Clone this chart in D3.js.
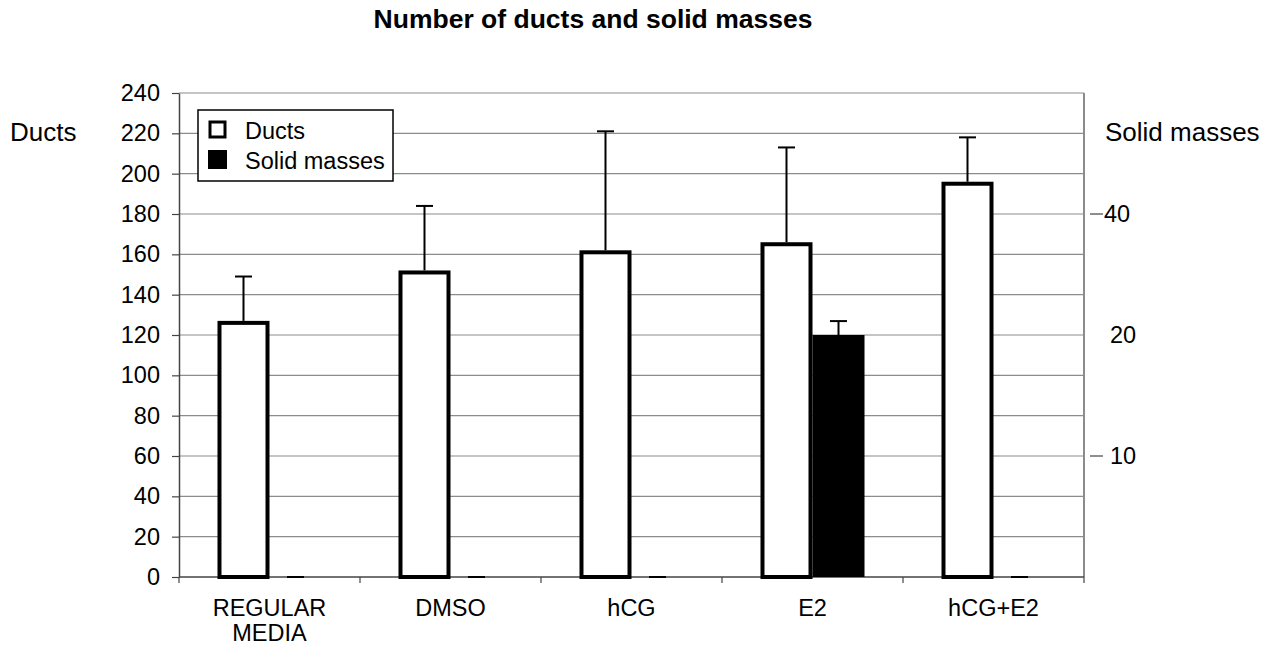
<!DOCTYPE html>
<html><head><meta charset="utf-8">
<script src="https://cdn.jsdelivr.net/npm/d3@7"></script>
<style>body{margin:0;background:#fff;} text{font-family:Arial,"Liberation Sans",sans-serif;fill:#000;}</style>
</head><body><svg id="c" width="1282" height="648"></svg>
<script>
const categories = ["REGULAR MEDIA", "DMSO", "hCG", "E2", "hCG+E2"];
const ducts = [127, 152, 162, 166, 196];
const ductsErr = [22, 32, 59, 47, 22];
const solidMasses = [0, 0, 0, 20, 0];
const solidErr = [0, 0, 0, 2.3, 0];
const leftTicks = [0,20,40,60,80,100,120,140,160,180,200,220,240];
const rightTicks = [10, 20, 40];
const rightTickMarked = [true, false, true];

const svg = d3.select("#c");
const m = {l:179, r:1084, t:93, b:577};
const x = d3.scaleBand().domain(categories).range([m.l, m.r]).paddingInner(0).paddingOuter(0);
const inner = d3.scaleBand().domain(["d","s"]).range([0, x.bandwidth()]).paddingInner(0).paddingOuter(0.74);
const y = d3.scaleLinear().domain([0,240]).range([m.b, m.t]);
// secondary axis as drawn in the original (non-uniform spacing)
const y2 = d3.scaleLinear().domain([0,10,20,40]).range([y(0), y(60), y(120), y(180)]);
const FS = "23.5px";

// grid
svg.append("g").selectAll("line").data(leftTicks.filter(d=>d>0)).join("line")
  .attr("x1", m.l).attr("x2", m.r).attr("y1", d=>y(d)).attr("y2", d=>y(d))
  .attr("stroke", "#8c8c8c").attr("stroke-width", 1.2);
svg.append("line").attr("x1", m.r).attr("x2", m.r).attr("y1", m.t).attr("y2", m.b)
  .attr("stroke", "#8c8c8c").attr("stroke-width", 2);

// left axis
const la = svg.append("g").attr("transform", `translate(${m.l},0)`)
  .call(d3.axisLeft(y).tickValues(leftTicks).tickSize(7).tickPadding(12).tickSizeOuter(0));
la.select(".domain").attr("stroke", "#444").attr("stroke-width", 1.5);
la.selectAll(".tick line").attr("stroke", "#444").attr("stroke-width", 1.2);
la.selectAll(".tick text").style("font-size", FS).attr("fill", "#000").attr("font-family","Arial,'Liberation Sans',sans-serif");

// bottom axis
const ba = svg.append("g").attr("transform", `translate(0,${m.b})`);
ba.append("line").attr("x1", m.l).attr("x2", m.r).attr("y1", 0).attr("y2", 0).attr("stroke", "#444").attr("stroke-width", 1.5);
const bounds = categories.map(c=>x(c)).concat([m.r]);
ba.selectAll("line.t").data(bounds).join("line").attr("class","t")
  .attr("x1", d=>d).attr("x2", d=>d).attr("y1", 0).attr("y2", 6).attr("stroke", "#444").attr("stroke-width", 1.2);
ba.selectAll("text.cat").data(categories).join("text").attr("class","cat")
  .attr("text-anchor","middle").style("font-size",FS)
  .attr("x", d=>x(d)+x.bandwidth()/2).attr("y", 39)
  .each(function(d){
    const parts = d === "REGULAR MEDIA" ? ["REGULAR","MEDIA"] : [d];
    d3.select(this).selectAll("tspan").data(parts).join("tspan")
      .attr("x", x(d)+x.bandwidth()/2).attr("dy", (p,i)=> i===0 ? 0 : 25).text(p=>p);
  });

// right axis
const ra = svg.append("g");
ra.selectAll("line").data(rightTicks.filter((d,i)=>rightTickMarked[i])).join("line")
  .attr("x1", m.r+6).attr("x2", m.r+19).attr("y1", d=>y2(d)).attr("y2", d=>y2(d))
  .attr("stroke", "#444").attr("stroke-width", 1.2);
ra.selectAll("text").data(rightTicks).join("text")
  .attr("x", (d,i)=> d===40 ? m.r+20 : m.r+26).attr("y", d=>y2(d)).attr("dy","0.35em")
  .style("font-size",FS).text(d=>d);

// error bars
const eb = svg.append("g");
function errBar(vals, errs, key, scale){
  vals.forEach((v,i)=>{
    const cx = x(categories[i]) + inner(key) + inner.bandwidth()/2;
    const y0 = scale(v), y1 = scale(v+errs[i]);
    if (errs[i] > 0) eb.append("line").attr("x1",cx).attr("x2",cx).attr("y1",y0).attr("y2",y1).attr("stroke","#000").attr("stroke-width",2);
    eb.append("line").attr("x1",cx-8.5).attr("x2",cx+8.5).attr("y1",y1).attr("y2",y1).attr("stroke","#000").attr("stroke-width",2);
  });
}
errBar(ducts, ductsErr, "d", y);
errBar(solidMasses, solidErr, "s", y2);

// bars
const ductData = ducts.map((v,i)=>({c:categories[i], v}));
const solidData = solidMasses.map((v,i)=>({c:categories[i], v})).filter(d=>d.v>0);
svg.append("g").selectAll("rect").data(ductData).join("rect")
  .attr("x", d=>x(d.c)+inner("d")+2).attr("width", inner.bandwidth()-4)
  .attr("y", d=>y(d.v)+2).attr("height", d=>y(0)-y(d.v)-2)
  .attr("fill","#fff").attr("stroke","#000").attr("stroke-width",4);
svg.append("g").selectAll("rect").data(solidData).join("rect")
  .attr("x", d=>x(d.c)+inner("s")).attr("width", inner.bandwidth())
  .attr("y", d=>y2(d.v)).attr("height", d=>y2(0)-y2(d.v))
  .attr("fill","#000");

// legend
const lg = svg.append("g").attr("transform","translate(198,110)");
lg.append("rect").attr("width",195).attr("height",71).attr("fill","#fff").attr("stroke","#000").attr("stroke-width",1.5);
lg.append("rect").attr("x",12).attr("y",12).attr("width",15).attr("height",15).attr("fill","#fff").attr("stroke","#000").attr("stroke-width",3);
lg.append("rect").attr("x",10).attr("y",40).attr("width",19).attr("height",19).attr("fill","#000");
lg.append("text").attr("x",47).attr("y",21).attr("dy","0.35em").style("font-size",FS).text("Ducts");
lg.append("text").attr("x",47).attr("y",51).attr("dy","0.35em").style("font-size",FS).text("Solid masses");

// titles
svg.append("text").attr("x",593).attr("y",28).attr("text-anchor","middle").style("font-size","26.5px").style("font-weight","bold").text("Number of ducts and solid masses");
svg.append("text").attr("x",10).attr("y",132).attr("dy","0.35em").style("font-size","26px").text("Ducts");
svg.append("text").attr("x",1105).attr("y",132).attr("dy","0.35em").style("font-size","26px").text("Solid masses");
</script></body></html>
